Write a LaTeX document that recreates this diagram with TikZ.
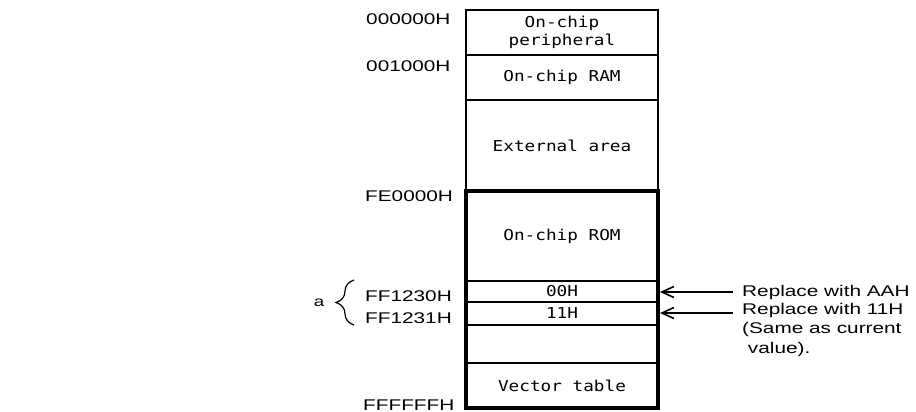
\documentclass[tikz,border=0pt]{standalone}
\usepackage{fontspec}
\usetikzlibrary{arrows.meta,decorations.pathreplacing}
\newfontfamily\addrfont[FakeStretch=1.34]{Liberation Sans}
\newfontfamily\boxfont[FakeStretch=1.18]{DejaVu Sans Mono}
\begin{document}
\begin{tikzpicture}[x=1pt,y=-1pt,
  region/.style={draw, line width=1.6pt, inner sep=0pt, minimum width=192pt, align=center,
    font=\boxfont\fontsize{15}{18}\selectfont},
  addr/.style={anchor=west, inner sep=0pt, font=\addrfont\fontsize{15.5}{18}\selectfont},
  note/.style={anchor=west, inner sep=0pt, align=left, font=\addrfont\fontsize{15.5}{19.5}\selectfont},
  pointer/.style={line width=1.4pt, -{Straight Barb[length=12pt,width=11pt,line width=1.6pt]}}]
\useasboundingbox (0,0) rectangle (916,412);
% memory regions
\node[region, minimum height=45pt] (peri) at (562,32.5) {On-chip\\peripheral};
\node[region, minimum height=45pt] (ram) at (562,77.5) {On-chip RAM};
\node[region, minimum height=91pt] (ext) at (562,145.5) {External area};
\node[region, minimum height=90pt] (rom) at (562,236) {On-chip ROM};
\node[region, minimum height=21pt] (b00) at (562,291.5) {00H};
\node[region, minimum height=23pt] (b11) at (562,313.5) {11H};
\node[region, minimum height=38pt] (blank) at (562,344) {};
\node[region, minimum height=45pt] (vec) at (562,385.5) {Vector table};
% thick frame around on-chip ROM area
\node[draw, line width=4pt, inner sep=0pt, minimum width=192pt, minimum height=217pt] (frame) at (562,299.5) {};
% address labels
\node[addr] (a0) at (366,19) {000000H};
\node[addr] (a1) at (366,66) {001000H};
\node[addr] (a2) at (365,196) {FE0000H};
\node[addr] (a3) at (365,296) {FF1230H};
\node[addr] (a4) at (365,318) {FF1231H};
\node[addr] (a5) at (363,405) {FFFFFFH};
% brace
\coordinate (bb) at (354,325);
\coordinate (bt) at (354,280);
\draw[line width=1.2pt, decorate, decoration={brace, amplitude=18pt}] (bb) -- (bt);
\node[inner sep=0pt, font=\addrfont\fontsize{14}{16}\selectfont] (alab) at (319,303) {a};
% notes
\node[note] (n1) at (742,292) {Replace with AAH};
\node[note, anchor=north west] (n2) at (742,303) {Replace with 11H\\(Same as current\\\ value).};
\coordinate (n2a) at (742,313);
\draw[pointer] (n1.west) ++(-9pt,0) -- (n1.west -| frame.east);
\draw[pointer] (n2a) ++(-9pt,0) -- (n2a -| frame.east);
\end{tikzpicture}
\end{document}
